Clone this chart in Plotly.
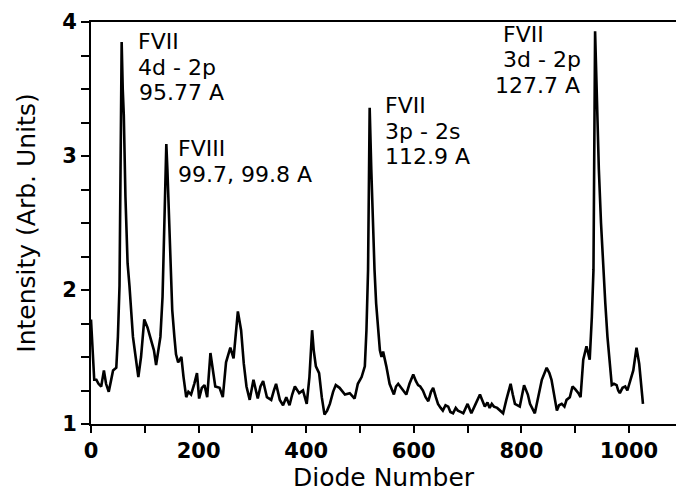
import plotly.graph_objects as go

diode = [0, 3, 6, 10, 14, 19, 24, 28, 33, 37, 41, 47, 50, 53, 55.5, 57, 59, 61, 64, 68,
         71.5, 74, 78, 83, 88, 93, 99, 105, 112, 117, 121, 125, 129, 133, 136, 140, 142, 145, 148, 151,
         155, 158, 162, 168, 172, 177, 181, 186, 192, 197, 201, 206, 211, 216, 222, 226, 231, 239, 245, 251,
         259, 265, 273, 279, 284, 289, 295, 302, 306, 310, 315, 320, 327, 335, 340, 344, 351, 357, 363, 369,
         374, 379, 387, 394, 401, 406, 411, 414, 418, 424, 429, 434, 439, 444, 450, 455, 462, 467, 472, 481,
         490, 496, 503, 509, 512, 515, 518, 521, 524, 527, 530, 534, 537, 540, 543, 549, 555, 563, 567, 571,
         577, 582, 586, 592, 599, 604, 608, 612, 617, 622, 627, 632, 636, 641, 645, 650, 654, 659, 664, 668,
         673, 678, 682, 687, 692, 700, 707, 715, 723, 728, 732, 737, 741, 745, 749, 755, 760, 766, 772, 780,
         784, 788, 797, 805, 812, 816, 825, 832, 838, 847, 852, 856, 861, 866, 870, 875, 880, 884, 890, 895,
         900, 906, 910, 915, 921, 924, 927, 931, 934, 937, 940, 944, 948, 952, 956, 960, 964, 968, 972, 977,
         980, 983, 988, 993, 997, 1001, 1005, 1008, 1014, 1019, 1026]
intensity = [1.78, 1.55, 1.33, 1.33, 1.30, 1.28, 1.40, 1.30, 1.24, 1.32, 1.40, 1.42, 1.65, 2.03, 3.0, 3.85, 3.5, 3.3, 2.7, 2.2,
             2.03, 1.85, 1.65, 1.50, 1.35, 1.50, 1.78, 1.72, 1.63, 1.55, 1.44, 1.55, 1.65, 1.95, 2.5, 3.09, 2.9, 2.55, 2.15, 1.85,
             1.65, 1.52, 1.46, 1.50, 1.35, 1.20, 1.24, 1.22, 1.30, 1.38, 1.19, 1.27, 1.29, 1.20, 1.53, 1.40, 1.28, 1.27, 1.20, 1.46,
             1.57, 1.49, 1.84, 1.70, 1.45, 1.28, 1.18, 1.33, 1.25, 1.19, 1.28, 1.32, 1.20, 1.18, 1.25, 1.30, 1.18, 1.14, 1.20, 1.14,
             1.22, 1.28, 1.23, 1.25, 1.15, 1.35, 1.70, 1.55, 1.43, 1.38, 1.20, 1.07, 1.10, 1.15, 1.24, 1.29, 1.27, 1.24, 1.22, 1.23,
             1.19, 1.30, 1.35, 1.43, 1.70, 2.15, 3.36, 2.9, 2.5, 2.15, 1.9, 1.73, 1.55, 1.50, 1.54, 1.43, 1.30, 1.22, 1.28, 1.30,
             1.27, 1.24, 1.22, 1.30, 1.37, 1.32, 1.29, 1.28, 1.25, 1.20, 1.17, 1.24, 1.27, 1.20, 1.15, 1.12, 1.10, 1.14, 1.13, 1.09,
             1.08, 1.12, 1.10, 1.09, 1.08, 1.15, 1.08, 1.15, 1.22, 1.17, 1.13, 1.16, 1.12, 1.15, 1.13, 1.12, 1.10, 1.08, 1.18, 1.30,
             1.22, 1.15, 1.13, 1.29, 1.22, 1.15, 1.08, 1.22, 1.33, 1.42, 1.38, 1.33, 1.20, 1.10, 1.14, 1.15, 1.13, 1.18, 1.20, 1.28,
             1.26, 1.23, 1.20, 1.48, 1.58, 1.52, 1.48, 1.80, 2.15, 3.93, 3.4, 2.9, 2.5, 2.15, 1.9, 1.65, 1.45, 1.29, 1.30, 1.29,
             1.25, 1.23, 1.27, 1.28, 1.25, 1.30, 1.35, 1.40, 1.57, 1.45, 1.15]

# label lines: (text, x in diode units, y in intensity units)
label_text = ["FVII", "4d - 2p", "95.77 A",
              "FVIII", "99.7, 99.8 A",
              "FVII", "3p - 2s", "112.9 A",
              "FVII", "3d - 2p", "127.7 A"]
label_x = [84.7, 84.7, 88,
           159, 159,
           544, 544, 544,
           764, 764, 749]
label_y = [3.857, 3.664, 3.471,
           3.057, 2.864,
           3.378, 3.185, 2.993,
           3.909, 3.717, 3.524]

x_ticks = [0, 200, 400, 600, 800, 1000]
y_ticks = [1, 2, 3, 4]

FONT = "DejaVu Sans, Liberation Sans, Arial"

fig = go.Figure()
fig.add_trace(go.Scatter(x=diode, y=intensity, mode="lines",
                         line=dict(color="black", width=2.6), showlegend=False))

for t, xv, yv in zip(label_text, label_x, label_y):
    fig.add_annotation(x=xv, y=yv, text=t, showarrow=False, xanchor="left", yanchor="middle",
                       borderpad=0,
                       font=dict(family=FONT, size=22, color="black"))

tickfont = dict(family=FONT, size=21, color="black", weight="bold")
fig.update_layout(
    width=676, height=492,
    margin=dict(l=91, r=0, t=22, b=68),
    plot_bgcolor="white", paper_bgcolor="white",
    xaxis=dict(range=[0, 1087.4], tickvals=x_ticks, ticks="outside", ticklen=7, tickwidth=2,
               tickcolor="black", showline=True, linewidth=2, linecolor="black", mirror=True,
               showgrid=False, zeroline=False, tickfont=tickfont,
               minor=dict(dtick=100, ticks="outside", ticklen=7, tickwidth=2, tickcolor="black"),
               title=dict(text="Diode Number", standoff=4,
                          font=dict(family=FONT, size=25, color="black"))),
    yaxis=dict(range=[1, 4], tickvals=y_ticks, ticks="outside", ticklen=8, tickwidth=2,
               tickcolor="black", showline=True, linewidth=2, linecolor="black",
               showgrid=False, zeroline=False, tickfont=tickfont,
               minor=dict(dtick=0.25, ticks="outside", ticklen=8, tickwidth=2, tickcolor="black"),
               title=dict(text="Intensity (Arb. Units)", standoff=19,
                          font=dict(family=FONT, size=25, color="black"))),
)

fig.write_html("out.html")
